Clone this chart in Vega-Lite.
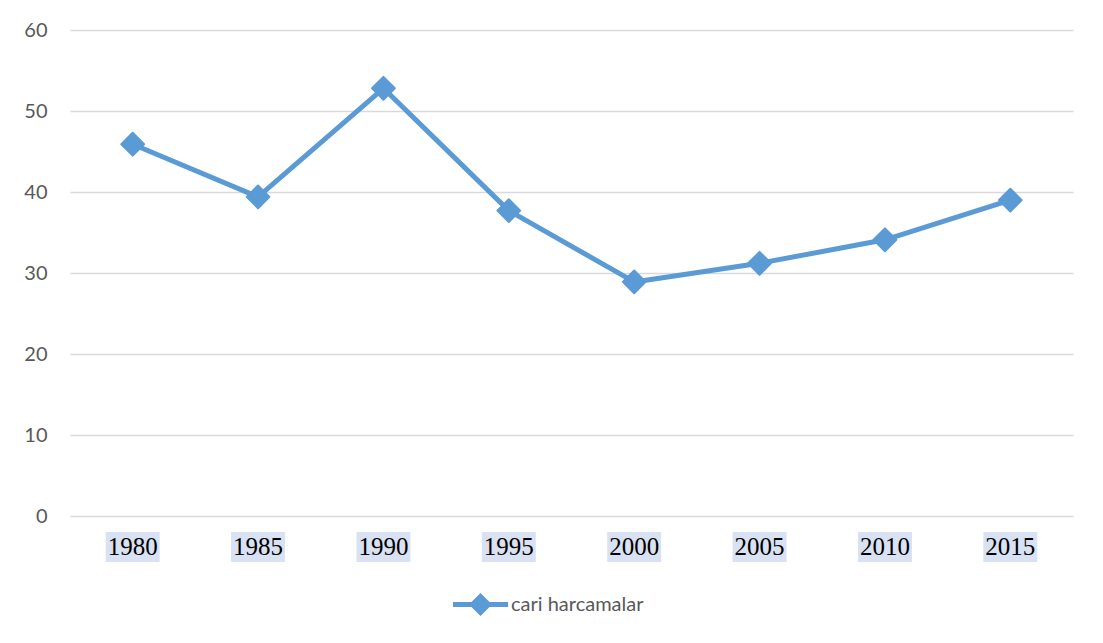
{
  "$schema": "https://vega.github.io/schema/vega-lite/v6.json",
  "width": 1003,
  "height": 486,
  "autosize": {"type": "none"},
  "padding": {"left": 70, "top": 30, "right": 30, "bottom": 127},
  "background": "white",
  "config": {
    "view": {"stroke": null},
    "axis": {"labelFont": "Lato", "labelColor": "#595959"}
  },
  "data": {
    "values": [
      {"year": "1980", "value": 45.9, "series": "cari harcamalar"},
      {"year": "1985", "value": 39.4, "series": "cari harcamalar"},
      {"year": "1990", "value": 52.8, "series": "cari harcamalar"},
      {"year": "1995", "value": 37.7, "series": "cari harcamalar"},
      {"year": "2000", "value": 28.9, "series": "cari harcamalar"},
      {"year": "2005", "value": 31.2, "series": "cari harcamalar"},
      {"year": "2010", "value": 34.1, "series": "cari harcamalar"},
      {"year": "2015", "value": 39.0, "series": "cari harcamalar"}
    ]
  },
  "encoding": {
    "x": {
      "field": "year",
      "type": "ordinal",
      "scale": {"paddingInner": 0, "paddingOuter": 0},
      "axis": {
        "title": null,
        "labelAngle": 0,
        "labelFont": "Liberation Serif",
        "labelFontSize": 25,
        "labelColor": "#000000",
        "labelPadding": 18,
        "domain": false,
        "ticks": false,
        "grid": false,
        "zindex": 1
      }
    }
  },
  "layer": [
    {
      "mark": {"type": "rect", "width": 54, "height": 30, "yOffset": 31, "color": "#d9e2f3", "clip": false},
      "encoding": {
        "y": {"datum": 0, "type": "quantitative"}
      }
    },
    {
      "mark": {"type": "line", "strokeWidth": 5, "strokeJoin": "round", "strokeCap": "round"},
      "encoding": {
        "y": {
          "field": "value",
          "type": "quantitative",
          "scale": {"domain": [0, 60], "nice": false},
          "axis": {
            "title": null,
            "values": [0, 10, 20, 30, 40, 50, 60],
            "labelFontSize": 20,
            "labelPadding": 23,
            "domain": false,
            "ticks": false,
            "grid": true,
            "gridColor": "#d9d9d9",
            "gridWidth": 1.3
          }
        },
        "color": {
          "field": "series",
          "type": "nominal",
          "scale": {"range": ["#5b9bd5"]},
          "legend": {
            "title": null,
            "orient": "none",
            "legendX": 383,
            "legendY": 547,
            "symbolType": "M-1,-0.09L1,-0.09L1,0.09L-1,0.09ZM-0.42,0L0,-0.42L0.42,0L0,0.42Z",
            "symbolSize": 3025,
            "labelFont": "Lato",
            "labelFontSize": 20,
            "labelColor": "#595959",
            "labelOffset": 3,
            "encode": {
              "symbols": {"update": {"fill": {"value": "#5b9bd5"}, "strokeWidth": {"value": 0}}}
            }
          }
        }
      }
    },
    {
      "mark": {"type": "point", "shape": "diamond", "size": 520, "filled": true, "opacity": 1, "stroke": "#5b9bd5", "strokeWidth": 2, "strokeJoin": "round"},
      "encoding": {
        "y": {"field": "value", "type": "quantitative"},
        "color": {"field": "series", "type": "nominal"}
      }
    }
  ]
}
